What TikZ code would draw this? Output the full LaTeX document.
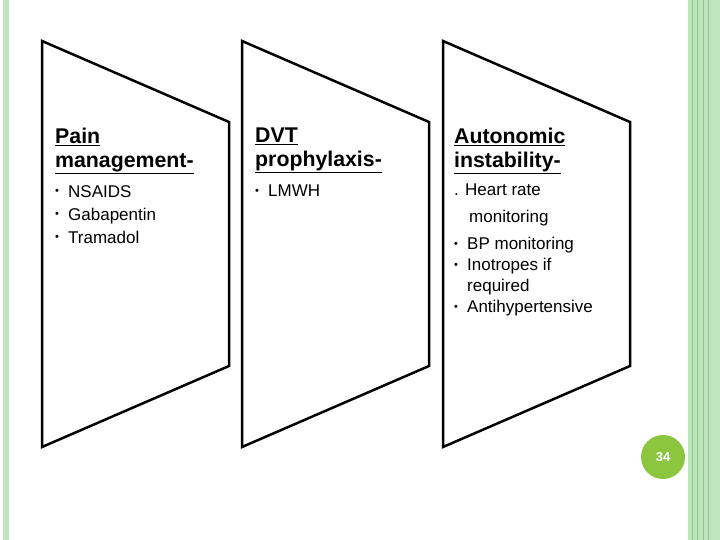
\documentclass[tikz,border=0pt]{standalone}
\usepackage{fontspec}
\setmainfont{Liberation Sans}
\definecolor{pgg}{HTML}{8CC63F}
\begin{document}
\begin{tikzpicture}[x=1pt,y=-1pt,
  panel/.style={draw=black,line width=2.5pt,line join=miter},
  ttl/.style={anchor=north west,align=left,font=\bfseries\fontsize{21.3}{24}\selectfont,inner sep=0pt},
  itm/.style={anchor=north west,align=left,font=\fontsize{17}{23}\selectfont,inner sep=0pt}]
\useasboundingbox (0,0) rectangle (720,540);
\fill[white] (0,0) rectangle (720,540);
\fill[green!60!black!25] (3,0) rectangle (9,540);
\fill[green!60!black!25] (688,0) rectangle (720,540);
\foreach \x in {692,697,703,708} \draw[green!50!black!45,line width=1pt] (\x,0) -- (\x,540);
\foreach \dx/\n in {0/a,200/b,401/c}{
  \draw[panel] (42+\dx,41) -- (229+\dx,122) -- (229+\dx,366) -- (42+\dx,447) -- cycle;
}
\newcommand{\bl}{\makebox[13pt][l]{\raisebox{2.5pt}{\fontsize{11}{11}\selectfont\textbullet}}}
\node[ttl] (t1) at (55,128) {\underline{Pain}\\\underline{management-}};
\node[ttl] (t2) at (255,128) {\underline{DVT}\\\underline{prophylaxis-}};
\node[ttl] (t3) at (454,128) {\underline{Autonomic}\\\underline{instability-}};
\node[itm] (l1) at (55,185) {\bl NSAIDS\\\bl Gabapentin\\\bl Tramadol};
\node[itm] (l2) at (255,185) {\bl LMWH};
\node[itm] (h3) at (454,184) {. Heart rate};
\node[itm] (m3) at (469,210) {monitoring};
\node[itm,font=\fontsize{17}{21}\selectfont] (l3) at (454,237) {\bl BP monitoring\\\bl Inotropes if\\\hspace*{13pt}required\\\bl Antihypertensive};
\node[circle,fill=pgg,minimum size=44pt,inner sep=0pt,text=white,font=\bfseries\fontsize{13}{15}\selectfont] (pg) at (663,457) {34};
\end{tikzpicture}
\end{document}
